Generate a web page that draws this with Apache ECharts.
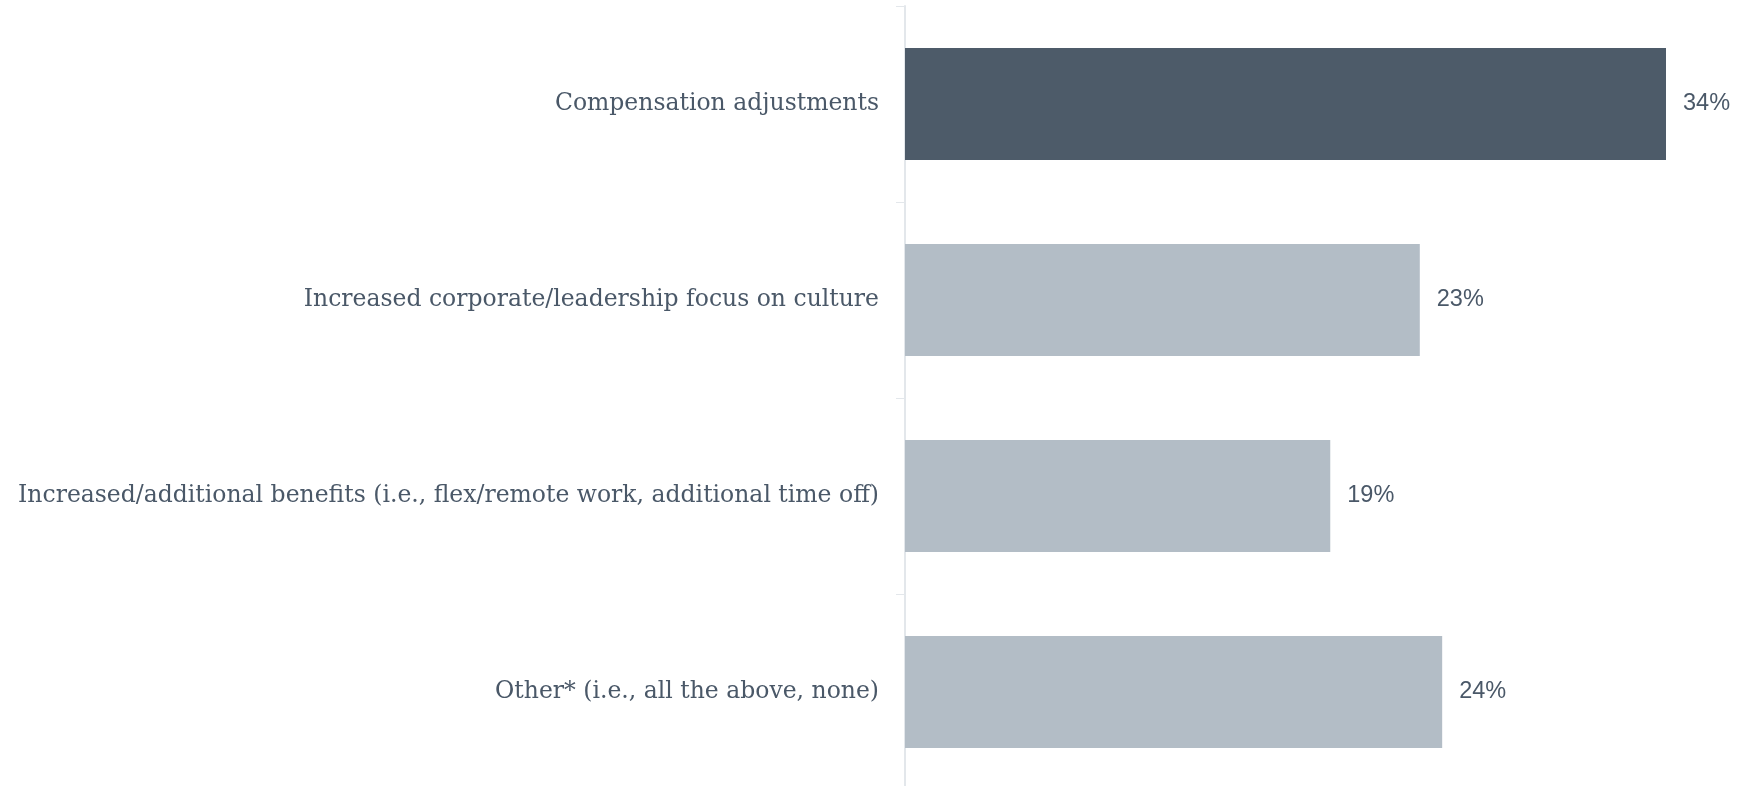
<!DOCTYPE html>
<html>
<head>
<meta charset="utf-8">
<script src="https://cdn.jsdelivr.net/npm/echarts@6/dist/echarts.min.js"></script>
<style>html,body{margin:0;padding:0;background:#fff;overflow:hidden;}#c{width:1749px;height:800px;}</style>
</head>
<body>
<div id="c"></div>
<script>
const categories = [
  "Compensation adjustments",
  "Increased corporate/leadership focus on culture",
  "Increased/additional benefits (i.e., flex/remote work, additional time off)",
  "Other* (i.e., all the above, none)"
];
const values = [34, 23, 19, 24];
const highlight = [true, false, false, false];

const chart = echarts.init(document.getElementById('c'));
chart.setOption({
  animation: false,
  grid: { left: 905, width: 761, top: 6, height: 784, containLabel: false },
  xAxis: { type: 'value', min: 0, max: 34, show: false },
  yAxis: {
    type: 'category', inverse: true, data: categories,
    axisLine: { show: true, lineStyle: { color: '#e3e7eb', width: 2 } },
    axisTick: { show: true, length: 9, lineStyle: { color: '#e3e7eb', width: 1 } },
    axisLabel: { margin: 26, color: '#4a5868', fontFamily: 'DejaVu Serif', fontSize: 23.5 }
  },
  series: [{
    type: 'bar', barWidth: 112,
    data: values.map((v, i) => ({ value: v, itemStyle: { color: highlight[i] ? '#4d5b69' : '#b3bdc6' } })),
    label: { show: true, position: 'right', distance: 17, formatter: '{c}%', color: '#4a5868', fontFamily: 'Liberation Sans', fontSize: 23.5 }
  }]
});
</script>
</body>
</html>
